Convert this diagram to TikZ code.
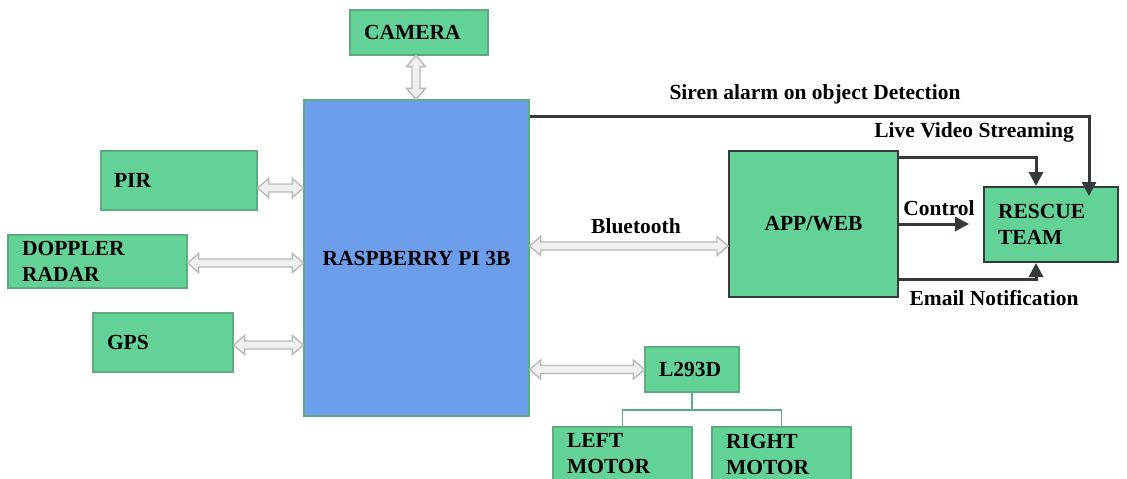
\documentclass[tikz,border=0pt]{standalone}
\usepackage{fontspec}
\setmainfont{Liberation Serif}
\usetikzlibrary{calc,arrows.meta}
\definecolor{boxgreen}{RGB}{98,210,151}
\definecolor{edgegreen}{RGB}{92,172,128}
\definecolor{piblue}{RGB}{109,158,235}
\definecolor{linegray}{RGB}{52,58,60}
\definecolor{hollowfill}{RGB}{240,240,240}
\definecolor{hollowdraw}{RGB}{186,186,186}
\newcommand\hollowh[2]{\path[hollow] let \p1=#1, \p2=#2 in
  (\x1,\y1) -- (\x1+11pt,\y1+9.5pt) -- (\x1+11pt,\y1+4pt) -- (\x2-11pt,\y1+4pt)
  -- (\x2-11pt,\y1+9.5pt) -- (\x2,\y1) -- (\x2-11pt,\y1-9.5pt) -- (\x2-11pt,\y1-4pt)
  -- (\x1+11pt,\y1-4pt) -- (\x1+11pt,\y1-9.5pt) -- cycle;}
\newcommand\hollowv[2]{\path[hollow] let \p1=#1, \p2=#2 in
  (\x1,\y1) -- (\x1+9.5pt,\y1-11pt) -- (\x1+4pt,\y1-11pt) -- (\x1+4pt,\y2+11pt)
  -- (\x1+9.5pt,\y2+11pt) -- (\x1,\y2) -- (\x1-9.5pt,\y2+11pt) -- (\x1-4pt,\y2+11pt)
  -- (\x1-4pt,\y1-11pt) -- (\x1-9.5pt,\y1-11pt) -- cycle;}
\begin{document}
\begin{tikzpicture}[x=1pt, y=-1pt,
    boldtext/.style={font=\bfseries\fontsize{21.5}{26}\selectfont, text=black},
    greenbox/.style={boldtext, draw=edgegreen, fill=boxgreen, line width=1.2pt,
      align=left, inner ysep=0pt},
    darkbox/.style={greenbox, draw=linegray, line width=2pt},
    flowtext/.style={boldtext, inner sep=0pt},
    signal/.style={draw=linegray, line width=3pt,
      -{Triangle[length=14pt,width=14pt]}},
    hollow/.style={draw=hollowdraw, fill=hollowfill, line width=1.4pt, line join=miter},
    tree/.style={draw=edgegreen, line width=1.8pt}]
  \useasboundingbox (0,0) rectangle (1127,479);
  \node[greenbox, text width=110pt, inner xsep=14pt, minimum height=45pt]
    (camera) at (419,32.5) {CAMERA};
  \node[boldtext, draw=edgegreen, fill=piblue, line width=1.2pt,
    minimum width=225pt, minimum height=316pt] (rpi) at (416.5,258) {RASPBERRY PI 3B};
  \node[greenbox, text width=130pt, inner xsep=13pt, minimum height=59pt]
    (pir) at (179,180.5) {PIR};
  \node[greenbox, text width=151pt, inner xsep=14pt, minimum height=53pt]
    (doppler) at (97.5,261.5) {DOPPLER\\RADAR};
  \node[greenbox, text width=112pt, inner xsep=14pt, minimum height=59pt]
    (gps) at (163,342.5) {GPS};
  \node[darkbox, align=center, minimum width=169pt, minimum height=146pt]
    (app) at (813.5,224) {APP/WEB};
  \node[darkbox, text width=106pt, inner xsep=14pt, minimum height=75pt]
    (rescue) at (1051,224.5) {RESCUE\\TEAM};
  \node[greenbox, text width=66pt, inner xsep=14pt, minimum height=45pt]
    (l293d) at (692,369.5) {L293D};
  \node[greenbox, text width=111pt, inner xsep=14pt, minimum height=54pt]
    (leftmotor) at (622.5,454) {LEFT\\MOTOR};
  \node[greenbox, text width=111pt, inner xsep=14pt, minimum height=54pt]
    (rightmotor) at (781.5,454) {RIGHT\\MOTOR};

  \hollowv{($(camera.south)+(-3,0)$)}{(rpi.north)}
  \hollowh{($(pir.east)+(0,7.5)$)}{(rpi.west)}
  \hollowh{($(doppler.east)+(0,1.5)$)}{(rpi.west)}
  \hollowh{($(gps.east)+(0,2.5)$)}{(rpi.west)}
  \hollowh{($(rpi.east)+(0,-12)$)}{(app.west)}
  \hollowh{(rpi.east |- l293d.west)}{(l293d.west)}

  \draw[tree] (l293d.south) -- ++(0,17) coordinate (fork);
  \draw[tree] (leftmotor.north) |- (fork) -| (rightmotor.north);

  \coordinate (sirenend) at ($(rescue.north west)+(106,10)$);
  \coordinate (ctrlend) at ($(rescue.west)+(-14,0)$);
  \draw[signal] ($(rpi.north east)+(0,17)$) -| (sirenend);
  \draw[signal] ($(app.north east)+(0,7)$) -| ($(rescue.north west)+(53,0)$);
  \draw[signal] (app.east) -- (app.east -| ctrlend);
  \draw[signal] ($(app.south east)+(0,-19)$) -| ($(rescue.south west)+(53,0)$);

  \node[flowtext] (sirenlbl) at (815,94) {Siren alarm on object Detection};
  \node[flowtext] (livelbl) at (974,132) {Live Video Streaming};
  \node[flowtext] (ctrllbl) at (939,208) {Control};
  \node[flowtext] (emaillbl) at (994,298) {Email Notification};
  \node[flowtext] (btlbl) at (636,226) {Bluetooth};
\end{tikzpicture}
\end{document}
